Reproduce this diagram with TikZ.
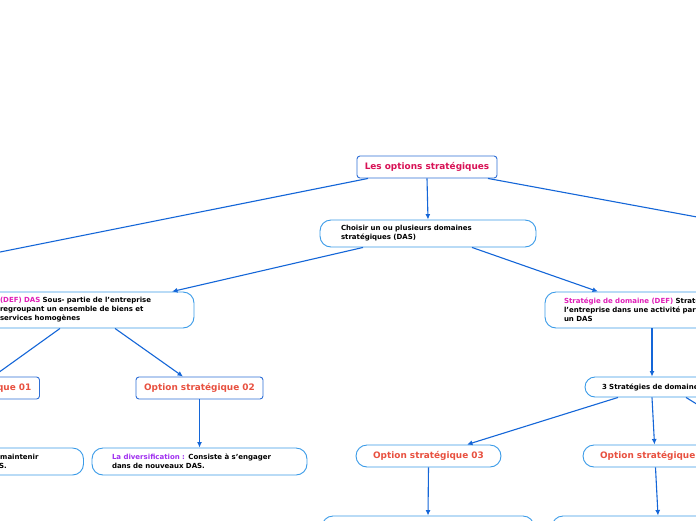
\documentclass[tikz,border=0pt]{standalone}
\usepackage{fontspec}
\setmainfont{DejaVu Sans}
\usetikzlibrary{arrows.meta}
\definecolor{sqblue}{HTML}{2F6FD6}
\definecolor{pillblue}{HTML}{3A9BE8}
\definecolor{lineblue}{HTML}{1466D8}
\definecolor{rootred}{HTML}{D81155}
\definecolor{optred}{HTML}{E8503F}
\definecolor{defmag}{HTML}{E020B8}
\definecolor{divpurple}{HTML}{A030F0}
\begin{document}
\begin{tikzpicture}[x=1pt,y=-1pt,
  sqbox/.style={draw=sqblue,line width=0.9pt,rounded corners=3pt,fill=white,inner sep=0pt,
    minimum height=22pt,font=\bfseries\fontsize{8.9}{10}\selectfont},
  pillbox/.style={draw=pillblue,line width=0.9pt,rounded corners=11pt,fill=white,inner sep=0pt,
    align=left,font=\bfseries\fontsize{7}{9}\selectfont},
  optpill/.style={draw=pillblue,line width=0.9pt,rounded corners=11pt,fill=white,inner sep=0pt,
    minimum width=145pt,minimum height=22pt,text=optred,font=\bfseries\fontsize{8.9}{10}\selectfont},
  conn/.style={draw=lineblue,line width=1.1pt,-{Latex[length=5.5pt,width=5pt]}},
  plainconn/.style={draw=lineblue,line width=1.1pt}]
\useasboundingbox (0,0) rectangle (696,520);
\clip (0,0) rectangle (696,520);
\fill[white] (0,0) rectangle (696,520);

% nodes
\node[sqbox,minimum width=140pt,text=rootred] (root) at (427,167) {Les options stratégiques};
\node[pillbox,minimum width=216pt,minimum height=27pt,text width=174pt] (das) at (428,233.5)
  {Choisir un ou plusieurs domaines\\stratégiques (DAS)};
\node[pillbox,minimum width=214pt,minimum height=36pt,text width=174pt] (defdas) at (87,310)
  {\textcolor{defmag}{(DEF) DAS} Sous- partie de l'entreprise\\regroupant un ensemble de biens et\\services homogènes};
\node[pillbox,minimum width=268pt,minimum height=36pt,text width=230pt] (defstrat) at (679,310)
  {\textcolor{defmag}{Stratégie de domaine (DEF)} Stratégie de\\l'entreprise dans une activité particulière,\\un DAS};
\node[sqbox,minimum width=127pt,text=optred] (opt1) at (-24,388) {Option stratégique 01};
\node[sqbox,minimum width=127pt,text=optred] (opt2) at (199.5,388) {Option stratégique 02};
\node[pillbox,minimum width=215pt,minimum height=27pt,text width=187pt] (lb) at (-24,461.5)
  {La spécialisation : Consiste à maintenir\\son activité dans le même DAS.};
\node[pillbox,minimum width=215pt,minimum height=27pt,text width=175pt] (div) at (199.5,461.5)
  {\textcolor{divpurple}{La diversification :} Consiste à s'engager\\dans de nouveaux DAS.};
\node[pillbox,minimum width=150pt,minimum height=20pt,text width=116pt,rounded corners=10pt] (strat3) at (660,387)
  {3 Stratégies de domaine};
\node[optpill] (opt3) at (428.5,456) {Option stratégique 03};
\node[optpill] (opt4) at (655.5,456) {Option stratégique 04};
\node[pillbox,minimum width=212pt,minimum height=27pt] (b3) at (428,529.5) {};
\node[pillbox,minimum width=212pt,minimum height=27pt] (b4) at (658,529.5) {};
\coordinate (leftend) at (-100,272);
\coordinate (rightend) at (800,236);
\coordinate (r3end) at (760,443);

% connectors
\draw[plainconn] ([xshift=-59pt]root.south) -- (leftend);
\draw[plainconn] ([xshift=61pt]root.south) -- (rightend);
\draw[conn] (root.south) -- (das.north);
\draw[conn] ([xshift=-65pt]das.south) -- ([xshift=85pt]defdas.north);
\draw[conn] ([xshift=44pt]das.south) -- ([xshift=-81pt]defstrat.north);
\draw[conn] ([xshift=-27pt]defstrat.south) -- ([xshift=-8pt]strat3.north);
\draw[conn] ([xshift=-42pt]strat3.south) -- ([xshift=38.5pt]opt3.north);
\draw[conn] ([xshift=-8pt]strat3.south) -- ([xshift=-1pt]opt4.north);
\draw[plainconn] ([xshift=26pt]strat3.south) -- (r3end);
\draw[conn] ([xshift=-27pt]defdas.south) -- ([xshift=17pt]opt1.north);
\draw[conn] ([xshift=28pt]defdas.south) -- ([xshift=-16.5pt]opt2.north);
\draw[conn] (opt1.south) -- (lb.north);
\draw[conn] (opt2.south) -- (div.north);
\draw[conn] (opt3.south) -- (b3.north);
\draw[conn] (opt4.south) -- (b4.north);
\end{tikzpicture}
\end{document}
